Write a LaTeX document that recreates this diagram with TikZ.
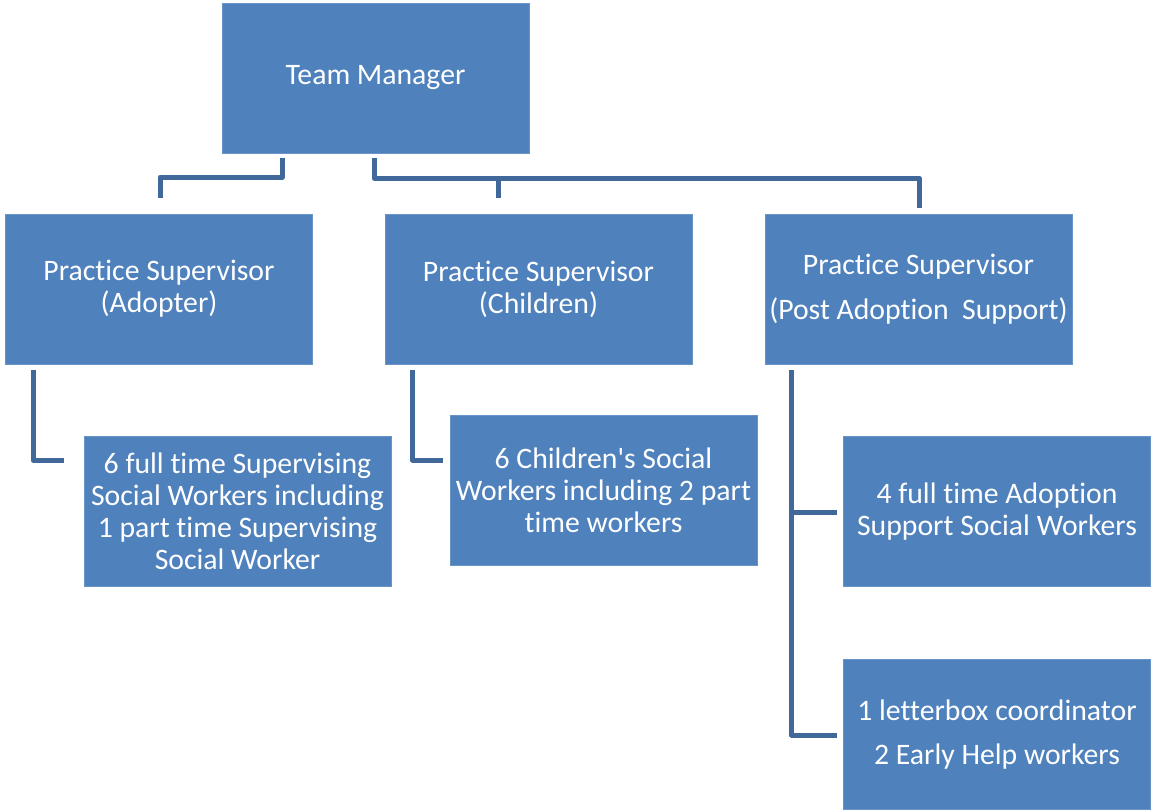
\documentclass[tikz,border=0pt]{standalone}
\usepackage{fontspec}
\setmainfont{Carlito}[Ligatures={NoCommon}]
\usetikzlibrary{calc}
\definecolor{boxblue}{RGB}{79,129,189}
\definecolor{lineblue}{RGB}{64,104,155}
\newcommand{\straightq}{\XeTeXglyph\XeTeXcharglyph"27\relax}
\begin{document}
\begin{tikzpicture}[x=0.75pt,y=-0.75pt,
  orgbox/.style={rectangle, fill=boxblue, draw=boxblue!85!white, line width=0.6pt, text=white,
    minimum width=230.25pt, minimum height=112.5pt, inner sep=0pt, align=center,
    font=\fontsize{22.3}{24}\selectfont},
  conn/.style={draw=lineblue, line width=3.75pt, line join=round}]
\useasboundingbox (0,0) rectangle (1152,810);
\fill[white] (0,0) rectangle (1152,810);

\node[orgbox] (tm) at (375.5,78) {\raisebox{-1.5pt}{Team Manager}};
\node[orgbox] (pa) at (159,289) {Practice Supervisor\\(Adopter)};
\node[orgbox] (pc) at (538.5,289) {Practice Supervisor\\(Children)};
\node[orgbox] (pp) at (918.5,289) {Practice Supervisor\\[9.5pt](Post Adoption\ \ Support)};
\node[orgbox] (b1) at (237.5,511.5) {6 full time Supervising\\Social Workers including\\1 part time Supervising\\Social Worker};
\node[orgbox] (b2) at (603.5,490) {6 Children\straightq s Social\\Workers including 2 part\\time workers};
\node[orgbox] (b3) at (997,511.5) {4 full time Adoption\\Support Social Workers};
\node[orgbox] (b4) at (997,734.5) {1 letterbox coordinator\\[9pt]2 Early Help workers};

% Team Manager to supervisors
\coordinate (tl) at ($(tm.south)+(-93.5,5)$);
\coordinate (tr) at ($(tm.south)+(-1.5,5)$);
\coordinate (da) at ($(pa.north)+(1,-16)$);
\coordinate (dc) at ($(pc.north)+(-40.5,-16)$);
\coordinate (dp) at ($(pp.north)+(0.5,-6)$);
\draw[conn] (tl) |- (da |- 0,177) -- (da);
\draw[conn] (tr) |- (dp |- 0,178) -- (dp);
\draw[conn] (dc) -- (dc |- 0,178);

% Supervisors to teams
\coordinate (sa) at ($(pa.south west)+(28,6)$);
\coordinate (ea) at ($(b1.west)+(-20,-51.5)$);
\draw[conn] (sa) |- (ea);
\coordinate (sc) at ($(pc.south west)+(28,6)$);
\coordinate (ec) at ($(b2.west)+(-7,-30)$);
\draw[conn] (sc) |- (ec);
\coordinate (sp) at ($(pp.south west)+(27,6)$);
\coordinate (e3) at ($(b3.west)+(-6,0.5)$);
\coordinate (e4) at ($(b4.west)+(-6,0.5)$);
\draw[conn] (sp) |- (e4);
\draw[conn] (sp |- e3) -- (e3);
\end{tikzpicture}
\end{document}
